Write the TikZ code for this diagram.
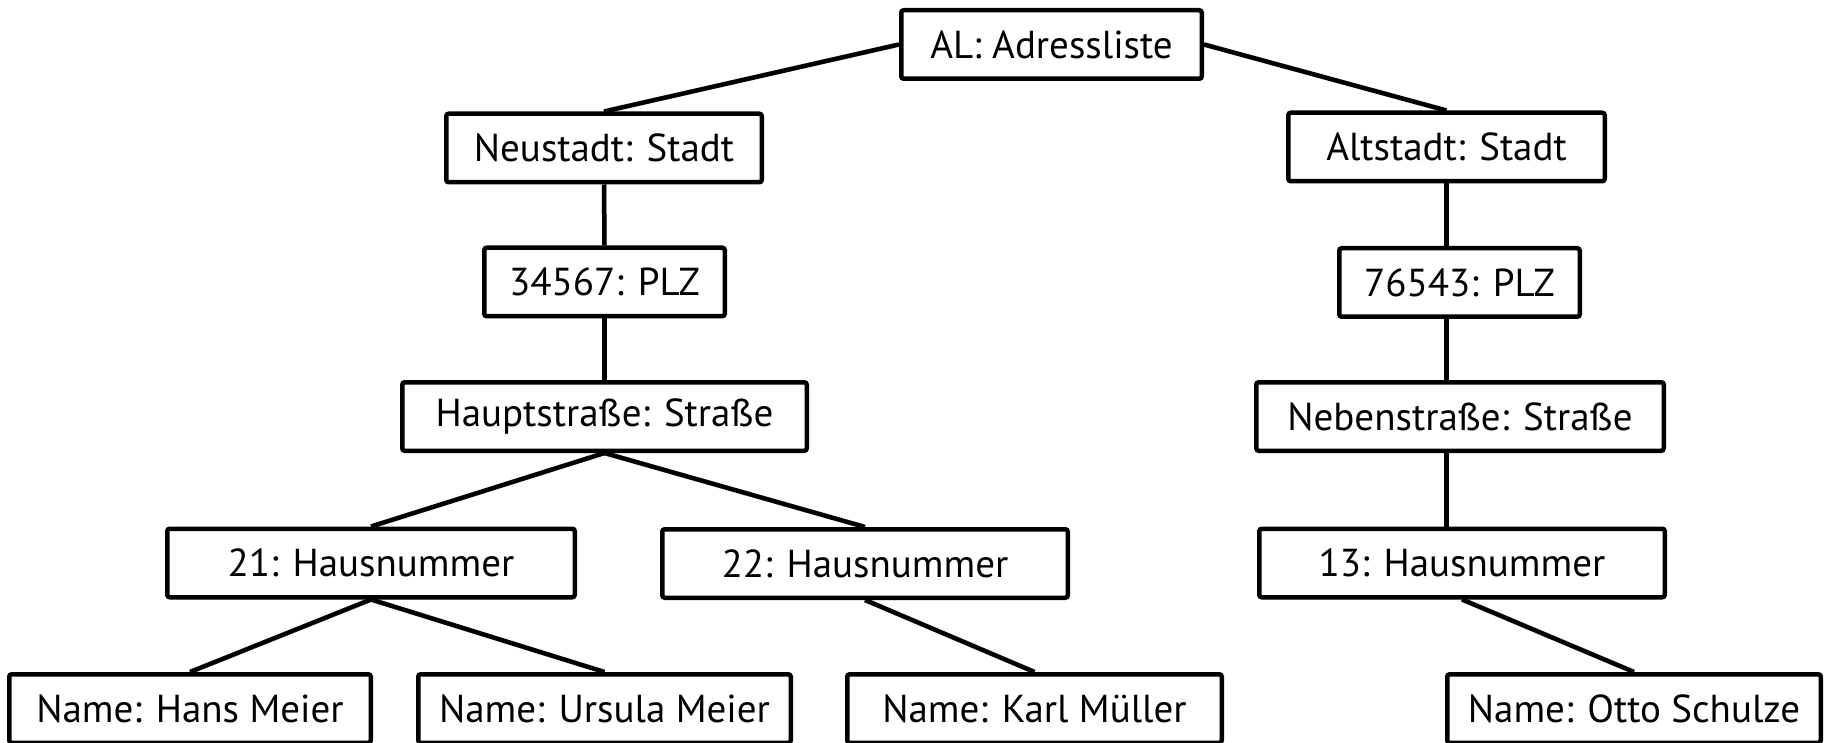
\documentclass[tikz,border=0pt]{standalone}
\usepackage{fontspec}
\setmainfont{PT Sans}
\usetikzlibrary{backgrounds}
\begin{document}
\begin{tikzpicture}[x=1pt,y=-1pt,
  objbox/.style={draw=black, fill=white, line width=4.5pt, rounded corners=2.5pt,
    minimum height=68.5pt, inner sep=0pt, align=center,
    font=\fontsize{39}{44}\selectfont},
  link/.style={draw=black, line width=4.5pt},
  linkshadow/.style={draw=black!25, line width=5pt, opacity=0.6}]
\useasboundingbox (0,0) rectangle (1829,743);

% object boxes
\node[objbox, minimum width=300.5pt] (al)    at (1051.5,44.5) {AL: Adressliste};
\node[objbox, minimum width=315.5pt] (neu)   at (604,148)     {Neustadt: Stadt};
\node[objbox, minimum width=316.5pt] (alt)   at (1446.5,147)  {Altstadt: Stadt};
\node[objbox, minimum width=240.5pt] (plzA)  at (604.5,282)   {34567: PLZ};
\node[objbox, minimum width=240.5pt] (plzB)  at (1459.5,282.5){76543: PLZ};
\node[objbox, minimum width=404.5pt] (haupt) at (604.5,416.5) {Hauptstraße: Straße};
\node[objbox, minimum width=407.5pt] (neben) at (1460,416.5)  {Nebenstraße: Straße};
\node[objbox, minimum width=407.5pt] (hn21)  at (371,563)     {21: Hausnummer};
\node[objbox, minimum width=405.5pt] (hn22)  at (865,563.5)   {22: Hausnummer};
\node[objbox, minimum width=405.5pt] (hn13)  at (1462,563)    {13: Hausnummer};
\node[objbox, minimum width=361.5pt] (hans)  at (190,708.5)   {Name: Hans Meier};
\node[objbox, minimum width=372.5pt] (ursula)at (604.5,708.5) {Name: Ursula Meier};
\node[objbox, minimum width=374.5pt] (karl)  at (1034.5,708.5){Name: Karl Müller};
\node[objbox, minimum width=373.5pt] (otto)  at (1634,708.5)  {Name: Otto Schulze};

% links between the objects
\begin{scope}[on background layer]
  \foreach \dx/\dy/\sty in {2/3/linkshadow, 0/0/link} {
    \begin{scope}[shift={(\dx,\dy)}]
      \path[\sty] (al.west) -- (neu.north);
      \path[\sty] (al.east) -- (alt.north);
      \path[\sty] (neu.south) -- (plzA.north);
      \path[\sty] (plzA.south) -- (haupt.north);
      \path[\sty] (haupt.south) -- (hn21.north);
      \path[\sty] (haupt.south) -- (hn22.north);
      \path[\sty] (hn21.south) -- (hans.north);
      \path[\sty] (hn21.south) -- (ursula.north);
      \path[\sty] (hn22.south) -- (karl.north);
      \path[\sty] (alt.south) -- (alt.south |- plzB.north);
      \path[\sty] (alt.south |- plzB.south) -- (alt.south |- neben.north);
      \path[\sty] (alt.south |- neben.south) -- (alt.south |- hn13.north);
      \path[\sty] (hn13.south) -- (otto.north);
    \end{scope}
  }
\end{scope}
\end{tikzpicture}
\end{document}
